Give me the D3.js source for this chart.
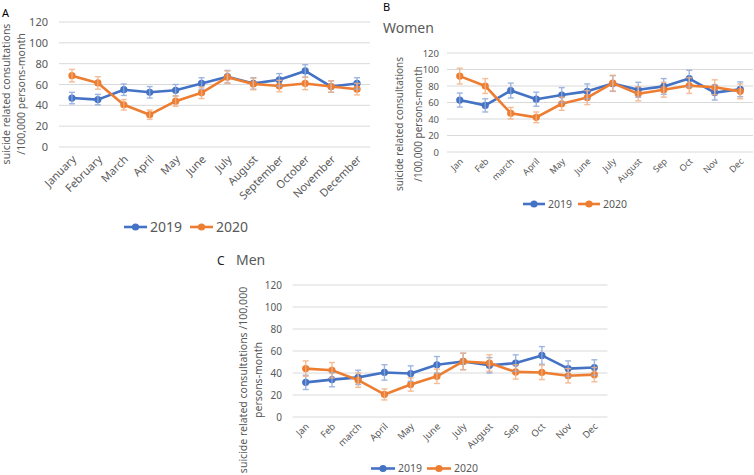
<!DOCTYPE html>
<html><head><meta charset="utf-8">
<script src="https://cdn.jsdelivr.net/npm/d3@7"></script>
<style>body{margin:0;background:#fff}svg{display:block}</style>
</head><body>
<svg id="c" width="754" height="475"></svg>
<script>
const monthsA = ["January","February","March","April","May","June","July","August","September","October","November","December"];
const monthsBC = ["Jan","Feb","march","April","May","June","July","August","Sep","Oct","Nov","Dec"];
const yTicks = [0,20,40,60,80,100,120];
const seriesNames = ["2019","2020"];

const a2019 = [47,45.5,55,52.5,54.5,61,67.5,61,64.5,73,58,61];
const a2020 = [68.5,61.5,40.5,31,44,52,67,60.5,58.5,61,58,55.5];
const a2019Err = [5.5,5,5.5,5.5,5.5,5.5,6,5.5,6,6,5.5,5.5];
const a2020Err = [6,6,5,4.5,5,5.5,6,5.5,5.5,6,5.5,5.5];

const b2019 = [63,56.5,74.5,64,69,73.5,83,75.5,79.5,89,72,76];
const b2020 = [92,80,47,42,58.5,66,83.5,70.5,75.5,80.5,78.5,73.5];
const b2019Err = [8.5,8,9,8.5,9,9,9.5,9,9.5,10,9,9];
const b2020Err = [9.5,9,7,6.5,8,8.5,9.5,8.5,9,9.5,9,9];

const c2019 = [31.5,34,36,40.5,39.5,47.5,50.5,47,49,56,44,45];
const c2020 = [44,42.5,33.5,20.5,29.5,37,50.5,49,41,40.5,37.5,38.5];
const c2019Err = [6.5,6.5,6.5,7,7,7.5,7.5,7,7.5,8,7,7];
const c2020Err = [7,7,6.5,5,6,6.5,7.5,7.5,6.5,6.5,6.5,6.5];

const colors = ["#4472C4","#ED7D31"];
const errColors = ["#8EA9DB","#F4B183"];
const gray = "#595959";
const FONT = "'Noto Sans', 'Open Sans', sans-serif";
const svg = d3.select("#c");

function panel(o){
  const g = svg.append("g");
  const x = d3.scaleBand().domain(o.months).range(o.xr);
  const y = d3.scaleLinear().domain([0,120]).range(o.yr);
  const cx = m => x(m) + x.bandwidth()/2;
  g.selectAll(".grid").data(yTicks).join("line")
    .attr("x1", o.xr[0]).attr("x2", o.xr[1])
    .attr("y1", d=>y(d)).attr("y2", d=>y(d))
    .attr("stroke","#D9D9D9").attr("stroke-width",1);
  const yAx = d3.axisLeft(y).tickValues(yTicks).tickSize(0).tickPadding(0);
  const ya = g.append("g").attr("transform",`translate(${o.tickX},0)`).call(yAx);
  ya.select(".domain").remove();
  ya.selectAll("text").attr("fill",gray).attr("font-family",FONT).attr("font-size",o.tickFs);
  const xAx = d3.axisBottom(x).tickSize(0).tickPadding(0);
  const xa = g.append("g").attr("transform",`translate(0,${o.yr[0]})`).call(xAx);
  xa.select(".domain").remove();
  xa.selectAll("text").attr("fill",gray).attr("font-family",FONT).attr("font-size",o.monFs)
    .attr("text-anchor","end").attr("dy",null).attr("y",0)
    .attr("transform",`translate(${o.monDx},${o.monDy}) rotate(-45)`);
  o.titleLines.forEach((t,i)=>{
    g.append("text").attr("transform",`translate(${o.titleX[i]},${o.titleY}) rotate(-90)`)
      .attr("text-anchor","middle").attr("fill",gray).attr("font-family",FONT)
      .attr("font-size",o.titleFs).text(t);
  });
  o.series.forEach((s,i)=>{
    const line = d3.line().x((d,j)=>cx(o.months[j])).y(d=>y(d));
    g.append("path").datum(s.v).attr("d",line).attr("fill","none")
      .attr("stroke",colors[i]).attr("stroke-width",2.6).attr("stroke-linejoin","round");
    g.selectAll(".m"+i).data(s.v).join("circle")
      .attr("cx",(d,j)=>cx(o.months[j])).attr("cy",d=>y(d)).attr("r",o.r).attr("fill",colors[i]);
  });
  o.series.forEach((s,i)=>{
    const eg = g.append("g").attr("stroke",errColors[i]).attr("stroke-width",1.4).attr("opacity",0.85);
    s.v.forEach((v,j)=>{
      const xx = cx(o.months[j]), e = s.e[j];
      eg.append("line").attr("x1",xx).attr("x2",xx).attr("y1",y(v+e)).attr("y2",y(v-e));
      eg.append("line").attr("x1",xx-3).attr("x2",xx+3).attr("y1",y(v+e)).attr("y2",y(v+e));
      eg.append("line").attr("x1",xx-3).attr("x2",xx+3).attr("y1",y(v-e)).attr("y2",y(v-e));
    });
  });
  seriesNames.forEach((n,i)=>{
    const lx = o.legX[i];
    g.append("line").attr("x1",lx).attr("x2",lx+o.legLen).attr("y1",o.legY).attr("y2",o.legY)
      .attr("stroke",colors[i]).attr("stroke-width",2.6);
    g.append("circle").attr("cx",lx+o.legLen/2).attr("cy",o.legY).attr("r",o.r).attr("fill",colors[i]);
    g.append("text").attr("x",lx+o.legLen+3).attr("y",o.legY).attr("dy","0.36em")
      .attr("fill",gray).attr("font-family",FONT).attr("font-size",o.legFs).text(n);
  });
}

panel({months:monthsA, xr:[59,370], yr:[147,22], tickX:48, tickFs:11, monFs:11, monDx:5, monDy:13,
  titleLines:["suicide related consultations","/100,000 persons-month"], titleX:[10,25], titleY:94, titleFs:10.5,
  series:[{v:a2019,e:a2019Err},{v:a2020,e:a2020Err}], r:3.6,
  legX:[124,190], legLen:23, legY:227, legFs:14});

panel({months:monthsBC, xr:[447,753], yr:[152,53], tickX:439, tickFs:9.5, monFs:9, monDx:4, monDy:10,
  titleLines:["suicide related consultations","/100,000 persons-month"], titleX:[403,422], titleY:124, titleFs:10,
  series:[{v:b2019,e:b2019Err},{v:b2020,e:b2020Err}], r:3.6,
  legX:[523,578], legLen:22, legY:204, legFs:10.5});

panel({months:monthsBC, xr:[292.6,607.5], yr:[417,285], tickX:282, tickFs:10, monFs:9.5, monDx:4, monDy:10,
  titleLines:["suicide related consultations /100,000","persons-month"], titleX:[247,262], titleY:380, titleFs:10.5,
  series:[{v:c2019,e:c2019Err},{v:c2020,e:c2020Err}], r:3.6,
  legX:[371,427], legLen:24, legY:468.5, legFs:10.5});

const lab = (x,y,t,fs,fill)=>svg.append("text").attr("x",x).attr("y",y).attr("font-family",FONT)
  .attr("font-size",fs).attr("fill",fill).text(t);
lab(2,17,"A",11,"#000");
lab(383,11,"B",11,"#000");
lab(383,33,"Women",14,gray);
lab(217,265,"C",12,"#222");
lab(236,265,"Men",14,gray);
</script>
</body></html>
